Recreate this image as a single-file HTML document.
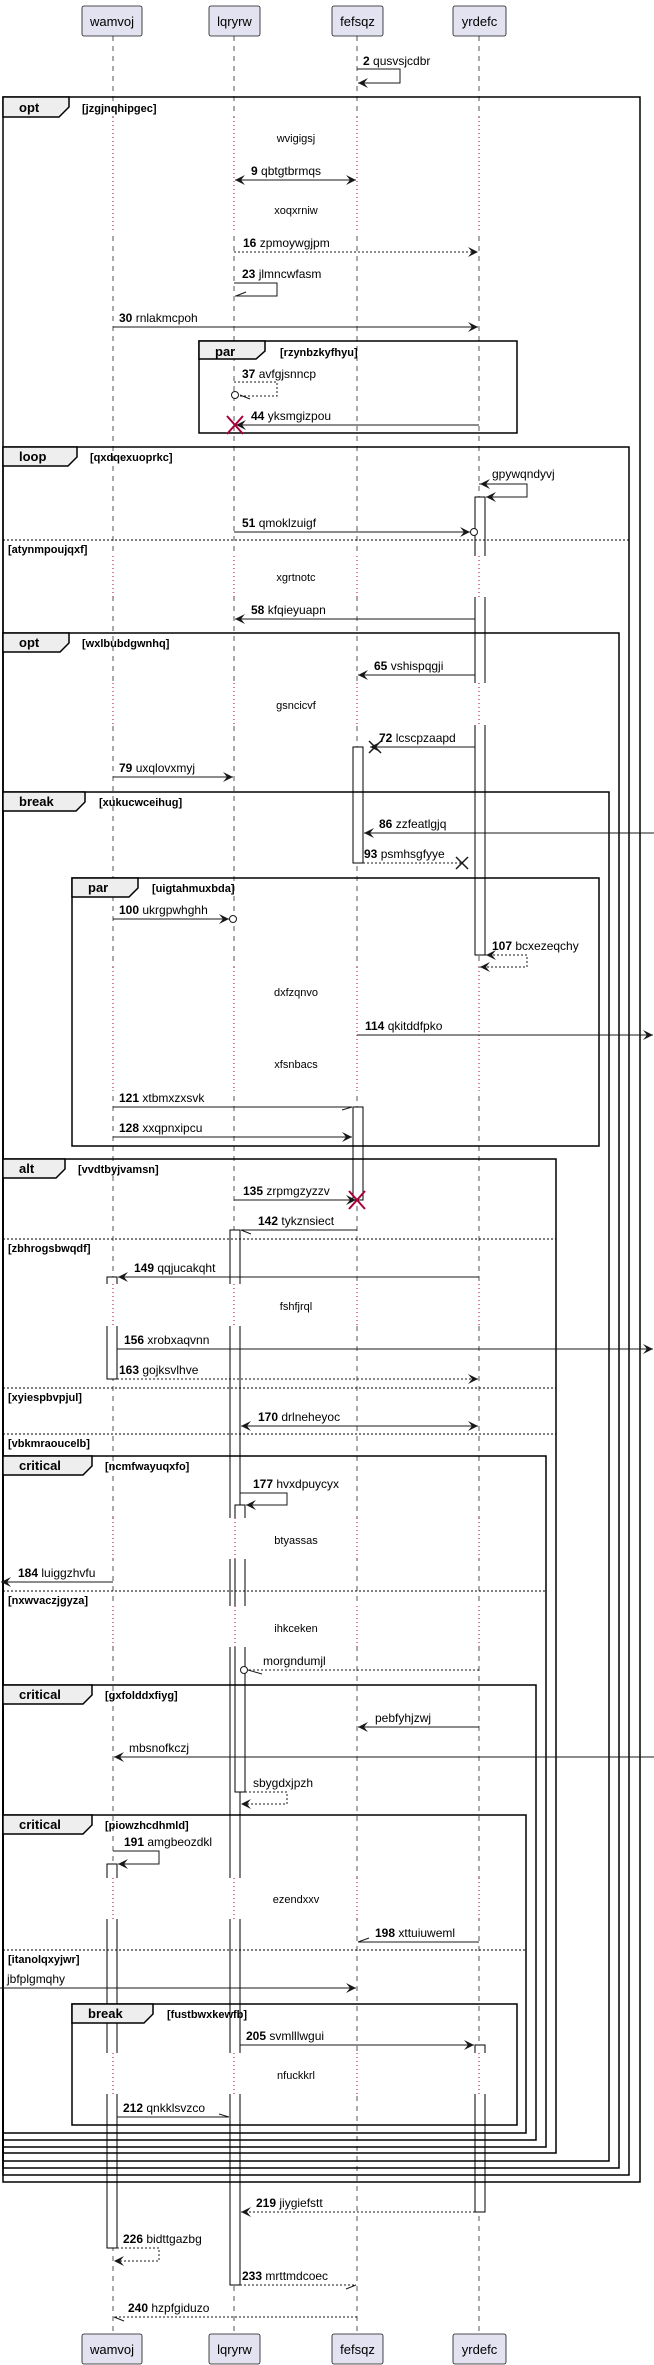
<!DOCTYPE html>
<html><head><meta charset="utf-8"><style>
html,body{margin:0;padding:0;background:#fff}
svg{display:block}
text{font-family:"Liberation Sans",sans-serif;fill:#000}
.m{font-size:12px}
.d{font-size:11px}
.g{font-size:11px;font-weight:bold}
.t{font-size:13px;font-weight:bold}
.p{font-size:13px}
.ll{stroke:#555;stroke-width:1;stroke-dasharray:5,5}
.fr{fill:none;stroke:#000;stroke-width:1.5}
.tab{fill:#EEEEEE;stroke:#000;stroke-width:1.5}
.el{stroke:#000;stroke-width:1;stroke-dasharray:2,2}
.ac{fill:#fff;stroke:#000;stroke-width:1}
.ms{stroke:#181818;stroke-width:1;fill:none}
.ds{stroke:#181818;stroke-width:1;fill:none;stroke-dasharray:2,2}
.rd{stroke:#A80036;stroke-width:1;stroke-dasharray:1,3}
.pb{fill:#E2E2F0;stroke:#181818;stroke-width:0.8}
</style></head><body>
<svg width="654" height="2365" viewBox="0 0 654 2365" xmlns="http://www.w3.org/2000/svg">
<defs>
<marker id="a" viewBox="0 0 10 10" refX="10" refY="5" markerWidth="10" markerHeight="10" markerUnits="userSpaceOnUse" orient="auto-start-reverse"><path d="M0,0 L10,5 L0,10 L4,5 Z" fill="#181818"/></marker>
</defs>

<!-- lifelines -->
<line class="ll" x1="113" y1="36" x2="113" y2="2334"/>
<line class="ll" x1="234" y1="36" x2="234" y2="2334"/>
<line class="ll" x1="357" y1="36" x2="357" y2="2334"/>
<line class="ll" x1="479" y1="36" x2="479" y2="2334"/>

<!-- participants -->
<rect class="pb" x="82" y="6" width="60" height="30" rx="2"/><text class="p" x="112" y="26" text-anchor="middle">wamvoj</text>
<rect class="pb" x="209" y="6" width="51" height="30" rx="2"/><text class="p" x="234.5" y="26" text-anchor="middle">lqryrw</text>
<rect class="pb" x="332" y="6" width="51" height="30" rx="2"/><text class="p" x="357.5" y="26" text-anchor="middle">fefsqz</text>
<rect class="pb" x="453" y="6" width="53" height="30" rx="2"/><text class="p" x="479.5" y="26" text-anchor="middle">yrdefc</text>
<rect class="pb" x="82" y="2334" width="60" height="30" rx="2"/><text class="p" x="112" y="2354" text-anchor="middle">wamvoj</text>
<rect class="pb" x="209" y="2334" width="51" height="30" rx="2"/><text class="p" x="234.5" y="2354" text-anchor="middle">lqryrw</text>
<rect class="pb" x="332" y="2334" width="51" height="30" rx="2"/><text class="p" x="357.5" y="2354" text-anchor="middle">fefsqz</text>
<rect class="pb" x="453" y="2334" width="53" height="30" rx="2"/><text class="p" x="479.5" y="2354" text-anchor="middle">yrdefc</text>

<!-- activations -->
<rect class="ac" x="475" y="497" width="10" height="458"/>
<rect class="ac" x="353" y="747" width="10" height="116"/>
<rect class="ac" x="353" y="1107" width="10" height="93"/>
<rect class="ac" x="230" y="1230" width="10" height="1055"/>
<rect class="ac" x="107" y="1277" width="10" height="102"/>
<rect class="ac" x="235" y="1505" width="10" height="287"/>
<rect class="ac" x="107" y="1864" width="10" height="384"/>
<rect class="ac" x="475" y="2045" width="10" height="167"/>

<!-- delay bands -->
<g fill="#fff">
<rect x="100" y="117" width="400" height="115"/>
<rect x="100" y="556" width="400" height="41"/>
<rect x="100" y="683" width="400" height="42"/>
<rect x="100" y="967" width="400" height="123"/>
<rect x="100" y="1284" width="400" height="42"/>
<rect x="100" y="1518" width="400" height="41"/>
<rect x="100" y="1606" width="400" height="41"/>
<rect x="100" y="1878" width="400" height="41"/>
<rect x="100" y="2053" width="400" height="41"/>
</g>
<g class="rd">
<line x1="113" y1="117" x2="113" y2="232"/><line x1="234" y1="117" x2="234" y2="232"/><line x1="357" y1="117" x2="357" y2="232"/><line x1="479" y1="117" x2="479" y2="232"/>
<line x1="113" y1="556" x2="113" y2="597"/><line x1="234" y1="556" x2="234" y2="597"/><line x1="357" y1="556" x2="357" y2="597"/><line x1="479" y1="556" x2="479" y2="597"/>
<line x1="113" y1="683" x2="113" y2="725"/><line x1="234" y1="683" x2="234" y2="725"/><line x1="357" y1="683" x2="357" y2="725"/><line x1="479" y1="683" x2="479" y2="725"/>
<line x1="113" y1="967" x2="113" y2="1090"/><line x1="234" y1="967" x2="234" y2="1090"/><line x1="357" y1="967" x2="357" y2="1090"/><line x1="479" y1="967" x2="479" y2="1090"/>
<line x1="113" y1="1284" x2="113" y2="1326"/><line x1="234" y1="1284" x2="234" y2="1326"/><line x1="357" y1="1284" x2="357" y2="1326"/><line x1="479" y1="1284" x2="479" y2="1326"/>
<line x1="113" y1="1518" x2="113" y2="1559"/><line x1="235" y1="1518" x2="235" y2="1559"/><line x1="357" y1="1518" x2="357" y2="1559"/><line x1="479" y1="1518" x2="479" y2="1559"/>
<line x1="113" y1="1606" x2="113" y2="1647"/><line x1="235" y1="1606" x2="235" y2="1647"/><line x1="357" y1="1606" x2="357" y2="1647"/><line x1="479" y1="1606" x2="479" y2="1647"/>
<line x1="113" y1="1878" x2="113" y2="1919"/><line x1="234" y1="1878" x2="234" y2="1919"/><line x1="357" y1="1878" x2="357" y2="1919"/><line x1="479" y1="1878" x2="479" y2="1919"/>
<line x1="113" y1="2053" x2="113" y2="2094"/><line x1="234" y1="2053" x2="234" y2="2094"/><line x1="357" y1="2053" x2="357" y2="2094"/><line x1="479" y1="2053" x2="479" y2="2094"/>
</g>
<g class="d" text-anchor="middle">
<text x="296" y="142">wvigigsj</text>
<text x="296" y="214">xoqxrniw</text>
<text x="296" y="581">xgrtnotc</text>
<text x="296" y="709">gsncicvf</text>
<text x="296" y="996">dxfzqnvo</text>
<text x="296" y="1068">xfsnbacs</text>
<text x="296" y="1310">fshfjrql</text>
<text x="296" y="1544">btyassas</text>
<text x="296" y="1632">ihkceken</text>
<text x="296" y="1903">ezendxxv</text>
<text x="296" y="2079">nfuckkrl</text>
</g>

<!-- frames -->
<rect class="fr" x="3" y="97" width="637" height="2085"/>
<polygon class="tab" points="3,97 69,97 69,107 59,117 3,117"/><text class="t" x="19" y="112">opt</text><text class="g" x="82" y="112">[jzgjnqhipgec]</text>

<rect class="fr" x="199" y="341" width="318" height="92"/>
<polygon class="tab" points="199,341 265,341 265,351 256,359 199,359"/><text class="t" x="215" y="356">par</text><text class="g" x="280" y="356">[rzynbzkyfhyu]</text>

<rect class="fr" x="3" y="447" width="626" height="1728"/>
<polygon class="tab" points="3,447 77,447 77,457 68,466 3,466"/><text class="t" x="19" y="461">loop</text><text class="g" x="90" y="461">[qxdqexuoprkc]</text>
<line class="el" x1="3" y1="540" x2="629" y2="540"/><text class="g" x="8" y="553">[atynmpoujqxf]</text>

<rect class="fr" x="3" y="633" width="616" height="1535"/>
<polygon class="tab" points="3,633 69,633 69,643 60,652 3,652"/><text class="t" x="19" y="647">opt</text><text class="g" x="82" y="647">[wxlbubdgwnhq]</text>

<rect class="fr" x="3" y="792" width="606" height="1369"/>
<polygon class="tab" points="3,792 85,792 85,802 76,811 3,811"/><text class="t" x="19" y="806">break</text><text class="g" x="99" y="806">[xukucwceihug]</text>

<rect class="fr" x="72" y="878" width="527" height="268"/>
<polygon class="tab" points="72,878 138,878 138,888 129,897 72,897"/><text class="t" x="88" y="892">par</text><text class="g" x="152" y="892">[uigtahmuxbda]</text>

<rect class="fr" x="3" y="1159" width="553" height="994"/>
<polygon class="tab" points="3,1159 65,1159 65,1169 56,1178 3,1178"/><text class="t" x="19" y="1173">alt</text><text class="g" x="78" y="1173">[vvdtbyjvamsn]</text>
<line class="el" x1="3" y1="1239" x2="556" y2="1239"/><text class="g" x="8" y="1252">[zbhrogsbwqdf]</text>
<line class="el" x1="3" y1="1388" x2="556" y2="1388"/><text class="g" x="8" y="1401">[xyiespbvpjul]</text>
<line class="el" x1="3" y1="1434" x2="556" y2="1434"/><text class="g" x="8" y="1447">[vbkmraoucelb]</text>

<rect class="fr" x="3" y="1456" width="543" height="691"/>
<polygon class="tab" points="3,1456 92,1456 92,1466 83,1475 3,1475"/><text class="t" x="19" y="1470">critical</text><text class="g" x="105" y="1470">[ncmfwayuqxfo]</text>
<line class="el" x1="3" y1="1591" x2="546" y2="1591"/><text class="g" x="8" y="1604">[nxwvaczjgyza]</text>

<rect class="fr" x="3" y="1685" width="533" height="455"/>
<polygon class="tab" points="3,1685 92,1685 92,1695 83,1704 3,1704"/><text class="t" x="19" y="1699">critical</text><text class="g" x="105" y="1699">[gxfolddxfiyg]</text>

<rect class="fr" x="3" y="1815" width="523" height="318"/>
<polygon class="tab" points="3,1815 92,1815 92,1825 83,1834 3,1834"/><text class="t" x="19" y="1829">critical</text><text class="g" x="105" y="1829">[piowzhcdhmld]</text>
<line class="el" x1="3" y1="1950" x2="526" y2="1950"/><text class="g" x="8" y="1963">[itanolqxyjwr]</text>

<rect class="fr" x="72" y="2004" width="445" height="121"/>
<polygon class="tab" points="72,2004 153,2004 153,2014 144,2023 72,2023"/><text class="t" x="88" y="2018">break</text><text class="g" x="167" y="2018">[fustbwxkewfb]</text>

<!-- messages -->
<path class="ms" d="M357,69 H400 V83 H358" marker-end="url(#a)"/>
<text class="m" x="363" y="65"><tspan font-weight="bold">2</tspan> qusvsjcdbr</text>

<line class="ms" x1="235" y1="180" x2="356" y2="180" marker-start="url(#a)" marker-end="url(#a)"/>
<text class="m" x="251" y="175"><tspan font-weight="bold">9</tspan> qbtgtbrmqs</text>

<line class="ds" x1="234" y1="252" x2="478" y2="252" marker-end="url(#a)"/>
<text class="m" x="243" y="247"><tspan font-weight="bold">16</tspan> zpmoywgjpm</text>

<path class="ms" d="M234,283 H277 V296 H235 M236,296 L246,292"/>
<text class="m" x="242" y="278"><tspan font-weight="bold">23</tspan> jlmncwfasm</text>

<line class="ms" x1="113" y1="327" x2="478" y2="327" marker-end="url(#a)"/>
<text class="m" x="119" y="322"><tspan font-weight="bold">30</tspan> rnlakmcpoh</text>

<path class="ds" d="M234,382 H277 V396 H239"/><path class="ms" d="M240,395 L250,399"/>
<circle cx="235" cy="395" r="3.5" fill="#fff" stroke="#181818"/>
<text class="m" x="242" y="378"><tspan font-weight="bold">37</tspan> avfgjsnncp</text>

<line class="ms" x1="479" y1="425" x2="236" y2="425" marker-end="url(#a)"/>
<path d="M227,416 L243,434 M243,416 L227,434" stroke="#A80036" stroke-width="2"/>
<text class="m" x="251" y="420"><tspan font-weight="bold">44</tspan> yksmgizpou</text>

<line class="ms" x1="489" y1="484" x2="480" y2="484" marker-end="url(#a)"/>
<path class="ms" d="M479,484 H527 V497 H486" marker-end="url(#a)"/>
<text class="m" x="492" y="478">gpywqndyvj</text>

<line class="ms" x1="234" y1="532" x2="470" y2="532" marker-end="url(#a)"/>
<circle cx="474" cy="532" r="3.5" fill="#fff" stroke="#181818"/>
<text class="m" x="242" y="527"><tspan font-weight="bold">51</tspan> qmoklzuigf</text>

<line class="ms" x1="475" y1="619" x2="235" y2="619" marker-end="url(#a)"/>
<text class="m" x="251" y="614"><tspan font-weight="bold">58</tspan> kfqieyuapn</text>

<line class="ms" x1="475" y1="675" x2="358" y2="675" marker-end="url(#a)"/>
<text class="m" x="374" y="670"><tspan font-weight="bold">65</tspan> vshispqgji</text>

<line class="ms" x1="475" y1="747" x2="370" y2="747" marker-end="url(#a)"/>
<path d="M369,741 L381,753 M381,741 L369,753" stroke="#181818" stroke-width="1.5"/>
<text class="m" x="379" y="742"><tspan font-weight="bold">72</tspan> lcscpzaapd</text>

<line class="ms" x1="113" y1="777" x2="233" y2="777" marker-end="url(#a)"/>
<text class="m" x="119" y="772"><tspan font-weight="bold">79</tspan> uxqlovxmyj</text>

<line class="ms" x1="654" y1="833" x2="364" y2="833" marker-end="url(#a)"/>
<text class="m" x="379" y="828"><tspan font-weight="bold">86</tspan> zzfeatlgjq</text>

<line class="ds" x1="363" y1="863" x2="461" y2="863"/>
<path d="M456,857 L468,869 M468,857 L456,869" stroke="#181818" stroke-width="1.5"/>
<text class="m" x="364" y="858"><tspan font-weight="bold">93</tspan> psmhsgfyye</text>

<line class="ms" x1="113" y1="919" x2="229" y2="919" marker-end="url(#a)"/>
<circle cx="233" cy="919" r="3.5" fill="#fff" stroke="#181818"/>
<text class="m" x="119" y="914"><tspan font-weight="bold">100</tspan> ukrgpwhghh</text>

<line class="ds" x1="489" y1="955" x2="486" y2="955" marker-end="url(#a)"/>
<path class="ds" d="M485,955 H527 V967 H480" marker-end="url(#a)"/>
<text class="m" x="492" y="950"><tspan font-weight="bold">107</tspan> bcxezeqchy</text>

<line class="ms" x1="357" y1="1035" x2="653" y2="1035" marker-end="url(#a)"/>
<text class="m" x="365" y="1030"><tspan font-weight="bold">114</tspan> qkitddfpko</text>

<path class="ms" d="M113,1107 H352 M352,1107 L342,1110"/>
<text class="m" x="119" y="1102"><tspan font-weight="bold">121</tspan> xtbmxzxsvk</text>

<line class="ms" x1="113" y1="1137" x2="352" y2="1137" marker-end="url(#a)"/>
<text class="m" x="119" y="1132"><tspan font-weight="bold">128</tspan> xxqpnxipcu</text>

<line class="ms" x1="234" y1="1200" x2="356" y2="1200" marker-end="url(#a)"/>
<path d="M349,1191 L365,1209 M365,1191 L349,1209" stroke="#A80036" stroke-width="2"/>
<text class="m" x="243" y="1195"><tspan font-weight="bold">135</tspan> zrpmgzyzzv</text>

<path class="ms" d="M357,1230 H241 M241,1230 L251,1234"/>
<text class="m" x="258" y="1225"><tspan font-weight="bold">142</tspan> tykznsiect</text>

<line class="ms" x1="479" y1="1277" x2="118" y2="1277" marker-end="url(#a)"/>
<text class="m" x="134" y="1272"><tspan font-weight="bold">149</tspan> qqjucakqht</text>

<line class="ms" x1="117" y1="1349" x2="653" y2="1349" marker-end="url(#a)"/>
<text class="m" x="124" y="1344"><tspan font-weight="bold">156</tspan> xrobxaqvnn</text>

<line class="ds" x1="117" y1="1379" x2="478" y2="1379" marker-end="url(#a)"/>
<text class="m" x="119" y="1374"><tspan font-weight="bold">163</tspan> gojksvlhve</text>

<line class="ms" x1="241" y1="1426" x2="478" y2="1426" marker-start="url(#a)" marker-end="url(#a)"/>
<text class="m" x="258" y="1421"><tspan font-weight="bold">170</tspan> drlneheyoc</text>

<path class="ms" d="M240,1493 H287 V1505 H246" marker-end="url(#a)"/>
<text class="m" x="253" y="1488"><tspan font-weight="bold">177</tspan> hvxdpuycyx</text>

<line class="ms" x1="113" y1="1582" x2="1" y2="1582" marker-end="url(#a)"/>
<text class="m" x="18" y="1577"><tspan font-weight="bold">184</tspan> luiggzhvfu</text>

<path class="ds" d="M479,1670 H248"/><path class="ms" d="M248,1670 L262,1674"/>
<circle cx="244" cy="1670" r="3.5" fill="#fff" stroke="#181818"/>
<text class="m" x="263" y="1665">morgndumjl</text>

<line class="ms" x1="479" y1="1727" x2="358" y2="1727" marker-end="url(#a)"/>
<text class="m" x="375" y="1722">pebfyhjzwj</text>

<line class="ms" x1="654" y1="1757" x2="114" y2="1757" marker-end="url(#a)"/>
<text class="m" x="129" y="1752">mbsnofkczj</text>

<path class="ds" d="M245,1792 H287 V1804 H241" marker-end="url(#a)"/>
<text class="m" x="253" y="1787">sbygdxjpzh</text>

<path class="ms" d="M113,1851 H159 V1864 H118" marker-end="url(#a)"/>
<text class="m" x="124" y="1846"><tspan font-weight="bold">191</tspan> amgbeozdkl</text>

<path class="ms" d="M479,1942 H358 M358,1942 L369,1938"/>
<text class="m" x="375" y="1937"><tspan font-weight="bold">198</tspan> xttuiuweml</text>

<line class="ms" x1="0" y1="1988" x2="356" y2="1988" marker-end="url(#a)"/>
<text class="m" x="7" y="1983">jbfplgmqhy</text>

<line class="ms" x1="240" y1="2045" x2="474" y2="2045" marker-end="url(#a)"/>
<text class="m" x="246" y="2040"><tspan font-weight="bold">205</tspan> svmlllwgui</text>

<path class="ms" d="M117,2117 H229 M229,2117 L219,2114"/>
<text class="m" x="123" y="2112"><tspan font-weight="bold">212</tspan> qnkklsvzco</text>

<line class="ds" x1="475" y1="2212" x2="241" y2="2212" marker-end="url(#a)"/>
<text class="m" x="256" y="2207"><tspan font-weight="bold">219</tspan> jiygiefstt</text>

<path class="ds" d="M117,2248 H159 V2261 H114" marker-end="url(#a)"/>
<text class="m" x="123" y="2243"><tspan font-weight="bold">226</tspan> bidttgazbg</text>

<path class="ds" d="M240,2285 H356"/><path class="ms" d="M356,2285 L346,2289"/>
<text class="m" x="242" y="2280"><tspan font-weight="bold">233</tspan> mrttmdcoec</text>

<path class="ds" d="M357,2317 H114"/><path class="ms" d="M114,2317 L124,2321"/>
<text class="m" x="128" y="2312"><tspan font-weight="bold">240</tspan> hzpfgiduzo</text>
</svg>
</body></html>
